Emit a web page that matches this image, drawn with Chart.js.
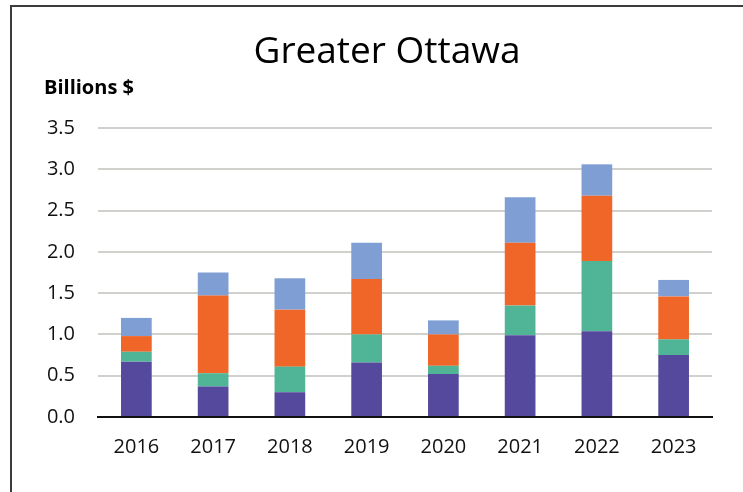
<!DOCTYPE html>
<html>
<head>
<meta charset="utf-8">
<style>
    html, body { margin: 0; padding: 0; background: #fff; }
    #wrap { position: relative; width: 743px; height: 492px; overflow: hidden; }
    #frame {
        position: absolute; left: 10px; top: 5px; right: -10px; bottom: -10px;
        border-top: 2px solid #3c3c3c; border-left: 2px solid #3c3c3c;
    }
    #chart { position: absolute; left: 0; top: 0; }
</style>
</head>
<body>
<div id="wrap">
    <div id="frame"></div>
    <canvas id="chart" width="743" height="492"></canvas>
</div>
<script src="https://cdn.jsdelivr.net/npm/chart.js"></script>
<script>
    const years = ["2016", "2017", "2018", "2019", "2020", "2021", "2022", "2023"];
    const purple = [0.67, 0.37, 0.30, 0.66, 0.52, 0.99, 1.04, 0.75];
    const green  = [0.12, 0.16, 0.31, 0.34, 0.10, 0.36, 0.85, 0.19];
    const orange = [0.19, 0.94, 0.69, 0.67, 0.38, 0.76, 0.79, 0.52];
    const blue   = [0.22, 0.28, 0.38, 0.44, 0.17, 0.55, 0.38, 0.20];

    const FONT = "'Open Sans', 'Noto Sans', sans-serif";

    function bars(data, color) {
        return {
            data: data,
            backgroundColor: color,
            borderWidth: 0,
            barPercentage: 0.4,
            categoryPercentage: 1.0
        };
    }

    // title and unit label are drawn by hand
    const headings = {
        id: "headings",
        afterDraw(c) {
            const ctx = c.ctx;
            ctx.save();
            ctx.fillStyle = "#000";
            ctx.textBaseline = "alphabetic";
            ctx.textAlign = "center";
            ctx.font = "37px " + FONT;
            ctx.fillText("Greater Ottawa", 387, 63);
            ctx.textAlign = "left";
            ctx.font = "bold 20px " + FONT;
            ctx.fillText("Billions $", 44, 94);
            ctx.restore();
        }
    };

    const chart = new Chart(document.getElementById("chart"), {
        type: "bar",
        data: {
            labels: years,
            datasets: [
                bars(purple, "#55499d"),
                bars(green, "#4fb596"),
                bars(orange, "#ef6628"),
                bars(blue, "#7f9ed4")
            ]
        },
        options: {
            responsive: false,
            animation: false,
            layout: { padding: { top: 128, right: 31, bottom: 0, left: 0 } },
            plugins: {
                legend: { display: false },
                title: { display: false },
                tooltip: { enabled: false }
            },
            scales: {
                x: {
                    stacked: true,
                    grid: { display: false, drawTicks: false },
                    border: { color: "#111", width: 2 },
                    ticks: { color: "#111", padding: 18, font: { family: FONT, size: 20 } },
                    afterFit(s) { s.height = 75; }
                },
                y: {
                    stacked: true,
                    min: 0,
                    max: 3.5,
                    grid: { color: "#d0d0cc", lineWidth: 2, drawTicks: false },
                    border: { display: false },
                    ticks: {
                        stepSize: 0.5,
                        color: "#111",
                        padding: 23,
                        font: { family: FONT, size: 20 },
                        callback: v => v.toFixed(1)
                    },
                    afterFit(s) { s.width = 98; }
                }
            }
        },
        plugins: [headings]
    });
</script>
</body>
</html>
